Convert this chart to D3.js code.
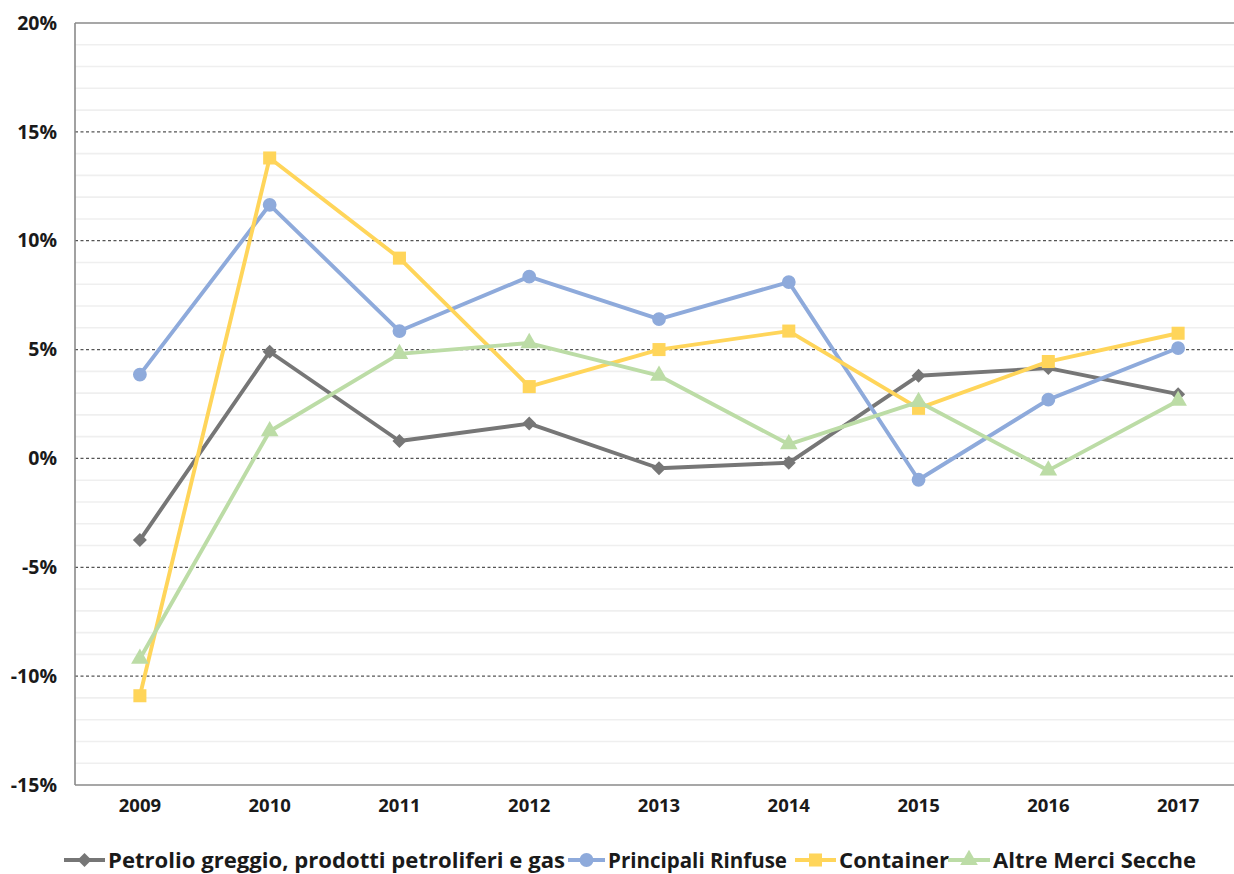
<!DOCTYPE html>
<html>
<head>
<meta charset="utf-8">
<script src="https://cdn.jsdelivr.net/npm/d3@7"></script>
<style>
  html, body { margin: 0; padding: 0; background: #fff; }
  svg { display: block; }
  text { font-family: "Open Sans", "Noto Sans", sans-serif; font-weight: 700; fill: #1a1a1a; }
</style>
</head>
<body>
<svg id="chart" width="1234" height="874"></svg>
<script>
// Annual growth rates by cargo type, 2009–2017
const years = ["2009", "2010", "2011", "2012", "2013", "2014", "2015", "2016", "2017"];
const petrolio = [-3.75, 4.9, 0.8, 1.6, -0.45, -0.2, 3.8, 4.15, 2.95];
const rinfuse = [3.85, 11.65, 5.85, 8.35, 6.4, 8.1, -0.98, 2.7, 5.07];
const container = [-10.9, 13.8, 9.2, 3.3, 5.0, 5.85, 2.3, 4.45, 5.75];
const altreMerci = [-9.2, 1.25, 4.8, 5.3, 3.8, 0.65, 2.6, -0.55, 2.65];
const seriesNames = ["Petrolio greggio, prodotti petroliferi e gas", "Principali Rinfuse", "Container", "Altre Merci Secche"];
const yTicks = [-15, -10, -5, 0, 5, 10, 15, 20];

const series = [
  { name: seriesNames[0], values: petrolio, color: "#767676", marker: "diamond" },
  { name: seriesNames[1], values: rinfuse, color: "#8eaadb", marker: "circle" },
  { name: seriesNames[2], values: container, color: "#ffd55a", marker: "square" },
  { name: seriesNames[3], values: altreMerci, color: "#bcdca6", marker: "triangle" }
];

const svg = d3.select("#chart");
const plotL = 75, plotR = 1243, plotT = 23, plotB = 785;

const x = d3.scaleBand().domain(years).range([plotL, plotR]);
const y = d3.scaleLinear().domain([-15, 20]).range([plotB, plotT]);
const cx = d => x(d) + x.bandwidth() / 2;

// minor gridlines every 1%
const minor = d3.range(-15, 21, 1).filter(v => v % 5 !== 0);
svg.append("g").selectAll("line").data(minor).join("line")
  .attr("x1", plotL).attr("x2", plotR)
  .attr("y1", d => y(d)).attr("y2", d => y(d))
  .attr("stroke", "#efefef").attr("stroke-width", 1.6);

// major dashed gridlines every 5%
svg.append("g").selectAll("line").data(yTicks.filter(v => v > -15 && v < 20)).join("line")
  .attr("x1", plotL).attr("x2", plotR)
  .attr("y1", d => y(d)).attr("y2", d => y(d))
  .attr("stroke", "#555").attr("stroke-width", 1.2)
  .attr("stroke-dasharray", "3,2.5");

// plot frame
svg.append("line").attr("x1", plotL).attr("x2", plotR).attr("y1", plotT).attr("y2", plotT)
  .attr("stroke", "#8a8a8a").attr("stroke-width", 1.6);
svg.append("line").attr("x1", plotL).attr("x2", plotR).attr("y1", plotB).attr("y2", plotB)
  .attr("stroke", "#8a8a8a").attr("stroke-width", 1.6);
svg.append("line").attr("x1", plotL).attr("x2", plotL).attr("y1", plotT).attr("y2", plotB)
  .attr("stroke", "#8a8a8a").attr("stroke-width", 1.6);

// y axis labels
const yAxis = d3.axisLeft(y).tickValues(yTicks).tickSize(0).tickPadding(18)
  .tickFormat(d => d + "%");
svg.append("g").attr("transform", `translate(${plotL},0)`).call(yAxis)
  .call(g => g.select(".domain").remove())
  .call(g => g.selectAll("text").attr("font-size", 19.5).attr("fill", "#1a1a1a")
    .style("font-family", "'Open Sans', sans-serif").style("font-weight", 700));

// x axis labels
const xAxis = d3.axisBottom(x).tickSize(0).tickPadding(14);
svg.append("g").attr("transform", `translate(0,${plotB})`).call(xAxis)
  .call(g => g.select(".domain").remove())
  .call(g => g.selectAll("text").attr("font-size", 18.5).attr("fill", "#1a1a1a")
    .style("font-family", "'Open Sans', sans-serif").style("font-weight", 700));

function markerPath(type) {
  switch (type) {
    case "diamond": return d3.symbol(d3.symbolDiamond2, 125)();
    case "circle": return d3.symbol(d3.symbolCircle, 150)();
    case "square": return d3.symbol(d3.symbolSquare, 170)();
    case "triangle": return d3.symbol(d3.symbolTriangle, 135)();
  }
}

const line = d3.line().x((d, i) => cx(years[i])).y(d => y(d));

series.forEach(s => {
  const g = svg.append("g");
  g.append("path").datum(s.values).attr("d", line)
    .attr("fill", "none").attr("stroke", s.color).attr("stroke-width", 3.9)
    .attr("stroke-linejoin", "round");
  g.selectAll("path.m").data(s.values).join("path").attr("class", "m")
    .attr("d", markerPath(s.marker))
    .attr("transform", (d, i) => `translate(${cx(years[i])},${y(d)})`)
    .attr("fill", s.color);
});

// legend
const legendY = 860;
const legendItems = [
  { sx: 64, tx: 108, tw: 457 },
  { sx: 568, tx: 608, tw: 179 },
  { sx: 795, tx: 839, tw: 110 },
  { sx: 948, tx: 993, tw: 203 }
];
series.forEach((s, i) => {
  const it = legendItems[i];
  const g = svg.append("g");
  g.append("line").attr("x1", it.sx).attr("x2", it.tx - 3)
    .attr("y1", legendY).attr("y2", legendY)
    .attr("stroke", s.color).attr("stroke-width", 3.9);
  g.append("path").attr("d", markerPath(s.marker))
    .attr("transform", `translate(${(it.sx + it.tx - 3) / 2},${legendY})`)
    .attr("fill", s.color);
  g.append("text").attr("x", it.tx).attr("y", legendY + 8)
    .attr("font-size", 21.5)
    .attr("textLength", it.tw).attr("lengthAdjust", "spacingAndGlyphs")
    .text(s.name);
});
</script>
</body>
</html>
